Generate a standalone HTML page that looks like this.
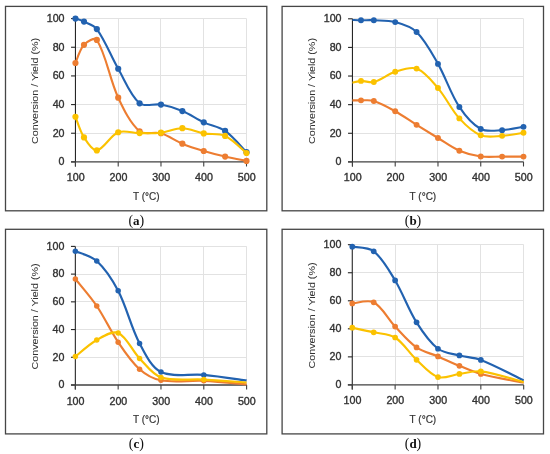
<!DOCTYPE html>
<html><head><meta charset="utf-8"><style>
html,body{margin:0;padding:0;background:#fff;width:550px;height:454px;overflow:hidden}
svg{display:block;will-change:transform}
.t{font-family:"Liberation Sans",sans-serif;font-size:10px;fill:#333333;stroke:#333333;stroke-width:0.35px}
.yt{font-size:9.7px;stroke-width:0.05px}
.xt{font-size:10px;stroke-width:0.2px}
.tk{font-size:10px}
.cap{font-family:"Liberation Serif",serif;font-size:14px;fill:#111}
</style></head><body>
<svg width="550" height="454" viewBox="0 0 550 454">
<rect width="550" height="454" fill="#fff"/>
<rect x="5.5" y="6.4" width="261.3" height="204.4" fill="#fff" stroke="#464646" stroke-width="1.3"/>
<line x1="75.45" y1="133.5" x2="246.5" y2="133.5" stroke="#E2E2E2" stroke-width="1"/>
<line x1="75.45" y1="104.5" x2="246.5" y2="104.5" stroke="#E2E2E2" stroke-width="1"/>
<line x1="75.45" y1="75.5" x2="246.5" y2="75.5" stroke="#E2E2E2" stroke-width="1"/>
<line x1="75.45" y1="47.5" x2="246.5" y2="47.5" stroke="#E2E2E2" stroke-width="1"/>
<line x1="75.45" y1="18.5" x2="246.5" y2="18.5" stroke="#E2E2E2" stroke-width="1"/>
<line x1="118.5" y1="18.6" x2="118.5" y2="161.9" stroke="#E2E2E2" stroke-width="1"/>
<line x1="160.5" y1="18.6" x2="160.5" y2="161.9" stroke="#E2E2E2" stroke-width="1"/>
<line x1="203.5" y1="18.6" x2="203.5" y2="161.9" stroke="#E2E2E2" stroke-width="1"/>
<line x1="246.5" y1="18.6" x2="246.5" y2="161.9" stroke="#E2E2E2" stroke-width="1"/>
<line x1="75.45" y1="18.6" x2="75.45" y2="166.5" stroke="#262626" stroke-width="1.1"/>
<line x1="71.05" y1="161.9" x2="75.45" y2="161.9" stroke="#262626" stroke-width="1.1"/>
<line x1="71.05" y1="133.24" x2="75.45" y2="133.24" stroke="#262626" stroke-width="1.1"/>
<line x1="71.05" y1="104.58" x2="75.45" y2="104.58" stroke="#262626" stroke-width="1.1"/>
<line x1="71.05" y1="75.92" x2="75.45" y2="75.92" stroke="#262626" stroke-width="1.1"/>
<line x1="71.05" y1="47.26" x2="75.45" y2="47.26" stroke="#262626" stroke-width="1.1"/>
<line x1="71.05" y1="18.6" x2="75.45" y2="18.6" stroke="#262626" stroke-width="1.1"/>
<line x1="71.05" y1="161.9" x2="246.5" y2="161.9" stroke="#404040" stroke-width="1.3"/>
<line x1="75.45" y1="161.9" x2="75.45" y2="166.5" stroke="#404040" stroke-width="1.1"/>
<line x1="118.21" y1="161.9" x2="118.21" y2="166.5" stroke="#404040" stroke-width="1.1"/>
<line x1="160.98" y1="161.9" x2="160.98" y2="166.5" stroke="#404040" stroke-width="1.1"/>
<line x1="203.74" y1="161.9" x2="203.74" y2="166.5" stroke="#404040" stroke-width="1.1"/>
<line x1="246.5" y1="161.9" x2="246.5" y2="166.5" stroke="#404040" stroke-width="1.1"/>
<text transform="translate(64.55,165.2) scale(1.07,1)" text-anchor="end" class="t tk">0</text>
<text transform="translate(64.55,136.54) scale(1.07,1)" text-anchor="end" class="t tk">20</text>
<text transform="translate(64.55,107.88) scale(1.07,1)" text-anchor="end" class="t tk">40</text>
<text transform="translate(64.55,79.22) scale(1.07,1)" text-anchor="end" class="t tk">60</text>
<text transform="translate(64.55,50.56) scale(1.07,1)" text-anchor="end" class="t tk">80</text>
<text transform="translate(64.55,21.9) scale(1.07,1)" text-anchor="end" class="t tk">100</text>
<text transform="translate(75.65,181.4) scale(1.07,1)" text-anchor="middle" class="t tk">100</text>
<text transform="translate(118.41,181.4) scale(1.07,1)" text-anchor="middle" class="t tk">200</text>
<text transform="translate(161.18,181.4) scale(1.07,1)" text-anchor="middle" class="t tk">300</text>
<text transform="translate(203.94,181.4) scale(1.07,1)" text-anchor="middle" class="t tk">400</text>
<text transform="translate(246.7,181.4) scale(1.07,1)" text-anchor="middle" class="t tk">500</text>
<text x="146.3" y="200.3" text-anchor="middle" class="t xt">T (°C)</text>
<text transform="translate(38.3,90.95) rotate(-90)" x="-53" y="0" textLength="106" lengthAdjust="spacingAndGlyphs" class="t yt">Conversion / Yield (%)</text>
<path d="M75.45,18.6 C76.88,19.1 81.3,20.29 84,21.61 C88.43,23.77 94.01,25.17 96.83,29.06 C105.41,40.89 110.71,55.74 118.21,68.75 C124.97,80.48 130.26,95.47 139.59,103.29 C144.52,107.41 154,103.32 160.98,104.58 C168.25,105.9 175.51,108.19 182.36,111.03 C189.77,114.11 196.44,118.95 203.74,122.35 C210.69,125.59 218.94,126.64 225.12,130.95 C233.19,136.58 242.94,148.62 246.5,152.16" fill="none" stroke="#2262B0" stroke-width="2.1" stroke-linejoin="round" stroke-linecap="butt"/>
<circle cx="75.45" cy="18.6" r="3.1" fill="#2262B0"/>
<circle cx="84" cy="21.61" r="3.1" fill="#2262B0"/>
<circle cx="96.83" cy="29.06" r="3.1" fill="#2262B0"/>
<circle cx="118.21" cy="68.75" r="3.1" fill="#2262B0"/>
<circle cx="139.59" cy="103.29" r="3.1" fill="#2262B0"/>
<circle cx="160.98" cy="104.58" r="3.1" fill="#2262B0"/>
<circle cx="182.36" cy="111.03" r="3.1" fill="#2262B0"/>
<circle cx="203.74" cy="122.35" r="3.1" fill="#2262B0"/>
<circle cx="225.12" cy="130.95" r="3.1" fill="#2262B0"/>
<circle cx="246.5" cy="152.16" r="3.1" fill="#2262B0"/>
<path d="M75.45,63.02 C76.88,59.99 79.77,49.39 84,44.82 C86.89,41.7 94.75,36.74 96.83,39.95 C106.16,54.37 109.55,79.21 118.21,97.7 C123.81,109.64 130.34,123.54 139.59,131.23 C144.59,135.39 154.21,131.27 160.98,133.24 C168.47,135.42 175.04,140.66 182.36,143.7 C189.3,146.59 196.53,148.84 203.74,151.01 C210.79,153.13 217.94,154.94 225.12,156.6 C232.2,158.23 242.94,160.18 246.5,160.9" fill="none" stroke="#ED7D31" stroke-width="2.1" stroke-linejoin="round" stroke-linecap="butt"/>
<circle cx="75.45" cy="63.02" r="3.1" fill="#ED7D31"/>
<circle cx="84" cy="44.82" r="3.1" fill="#ED7D31"/>
<circle cx="96.83" cy="39.95" r="3.1" fill="#ED7D31"/>
<circle cx="118.21" cy="97.7" r="3.1" fill="#ED7D31"/>
<circle cx="139.59" cy="131.23" r="3.1" fill="#ED7D31"/>
<circle cx="160.98" cy="133.24" r="3.1" fill="#ED7D31"/>
<circle cx="182.36" cy="143.7" r="3.1" fill="#ED7D31"/>
<circle cx="203.74" cy="151.01" r="3.1" fill="#ED7D31"/>
<circle cx="225.12" cy="156.6" r="3.1" fill="#ED7D31"/>
<circle cx="246.5" cy="160.9" r="3.1" fill="#ED7D31"/>
<path d="M75.45,116.76 C76.88,120.2 80.08,131.22 84,137.4 C87.21,142.45 92.33,151.11 96.83,150.44 C103.74,149.39 110.12,135.52 118.21,132.24 C124.38,129.74 132.46,133.03 139.59,133.1 C146.72,133.17 153.92,133.47 160.98,132.67 C168.18,131.85 175.25,128.11 182.36,128.22 C189.51,128.34 196.54,132.08 203.74,133.38 C210.79,134.66 218.84,133.08 225.12,135.96 C233.09,139.62 242.94,150.17 246.5,153.02" fill="none" stroke="#FBC200" stroke-width="2.1" stroke-linejoin="round" stroke-linecap="butt"/>
<circle cx="75.45" cy="116.76" r="3.1" fill="#FBC200"/>
<circle cx="84" cy="137.4" r="3.1" fill="#FBC200"/>
<circle cx="96.83" cy="150.44" r="3.1" fill="#FBC200"/>
<circle cx="118.21" cy="132.24" r="3.1" fill="#FBC200"/>
<circle cx="139.59" cy="133.1" r="3.1" fill="#FBC200"/>
<circle cx="160.98" cy="132.67" r="3.1" fill="#FBC200"/>
<circle cx="182.36" cy="128.22" r="3.1" fill="#FBC200"/>
<circle cx="203.74" cy="133.38" r="3.1" fill="#FBC200"/>
<circle cx="225.12" cy="135.96" r="3.1" fill="#FBC200"/>
<circle cx="246.5" cy="153.02" r="3.1" fill="#FBC200"/>
<text x="136.35" y="225.1" text-anchor="middle" class="cap">(<tspan font-weight="bold" font-size="13px">a</tspan>)</text>
<rect x="282.1" y="6.4" width="261.4" height="204.4" fill="#fff" stroke="#464646" stroke-width="1.3"/>
<line x1="352.45" y1="133.5" x2="523.5" y2="133.5" stroke="#E2E2E2" stroke-width="1"/>
<line x1="352.45" y1="104.5" x2="523.5" y2="104.5" stroke="#E2E2E2" stroke-width="1"/>
<line x1="352.45" y1="76.5" x2="523.5" y2="76.5" stroke="#E2E2E2" stroke-width="1"/>
<line x1="352.45" y1="47.5" x2="523.5" y2="47.5" stroke="#E2E2E2" stroke-width="1"/>
<line x1="352.45" y1="18.5" x2="523.5" y2="18.5" stroke="#E2E2E2" stroke-width="1"/>
<line x1="395.5" y1="18.8" x2="395.5" y2="161.9" stroke="#E2E2E2" stroke-width="1"/>
<line x1="437.5" y1="18.8" x2="437.5" y2="161.9" stroke="#E2E2E2" stroke-width="1"/>
<line x1="480.5" y1="18.8" x2="480.5" y2="161.9" stroke="#E2E2E2" stroke-width="1"/>
<line x1="523.5" y1="18.8" x2="523.5" y2="161.9" stroke="#E2E2E2" stroke-width="1"/>
<line x1="352.45" y1="18.8" x2="352.45" y2="166.5" stroke="#262626" stroke-width="1.1"/>
<line x1="348.05" y1="161.9" x2="352.45" y2="161.9" stroke="#262626" stroke-width="1.1"/>
<line x1="348.05" y1="133.28" x2="352.45" y2="133.28" stroke="#262626" stroke-width="1.1"/>
<line x1="348.05" y1="104.66" x2="352.45" y2="104.66" stroke="#262626" stroke-width="1.1"/>
<line x1="348.05" y1="76.04" x2="352.45" y2="76.04" stroke="#262626" stroke-width="1.1"/>
<line x1="348.05" y1="47.42" x2="352.45" y2="47.42" stroke="#262626" stroke-width="1.1"/>
<line x1="348.05" y1="18.8" x2="352.45" y2="18.8" stroke="#262626" stroke-width="1.1"/>
<line x1="348.05" y1="161.9" x2="523.5" y2="161.9" stroke="#404040" stroke-width="1.3"/>
<line x1="352.45" y1="161.9" x2="352.45" y2="166.5" stroke="#404040" stroke-width="1.1"/>
<line x1="395.21" y1="161.9" x2="395.21" y2="166.5" stroke="#404040" stroke-width="1.1"/>
<line x1="437.98" y1="161.9" x2="437.98" y2="166.5" stroke="#404040" stroke-width="1.1"/>
<line x1="480.74" y1="161.9" x2="480.74" y2="166.5" stroke="#404040" stroke-width="1.1"/>
<line x1="523.5" y1="161.9" x2="523.5" y2="166.5" stroke="#404040" stroke-width="1.1"/>
<text transform="translate(341.55,165.2) scale(1.07,1)" text-anchor="end" class="t tk">0</text>
<text transform="translate(341.55,136.58) scale(1.07,1)" text-anchor="end" class="t tk">20</text>
<text transform="translate(341.55,107.96) scale(1.07,1)" text-anchor="end" class="t tk">40</text>
<text transform="translate(341.55,79.34) scale(1.07,1)" text-anchor="end" class="t tk">60</text>
<text transform="translate(341.55,50.72) scale(1.07,1)" text-anchor="end" class="t tk">80</text>
<text transform="translate(341.55,22.1) scale(1.07,1)" text-anchor="end" class="t tk">100</text>
<text transform="translate(352.65,181.4) scale(1.07,1)" text-anchor="middle" class="t tk">100</text>
<text transform="translate(395.41,181.4) scale(1.07,1)" text-anchor="middle" class="t tk">200</text>
<text transform="translate(438.18,181.4) scale(1.07,1)" text-anchor="middle" class="t tk">300</text>
<text transform="translate(480.94,181.4) scale(1.07,1)" text-anchor="middle" class="t tk">400</text>
<text transform="translate(523.7,181.4) scale(1.07,1)" text-anchor="middle" class="t tk">500</text>
<text x="422.9" y="200.3" text-anchor="middle" class="t xt">T (°C)</text>
<text transform="translate(314.9,91.05) rotate(-90)" x="-53" y="0" textLength="106" lengthAdjust="spacingAndGlyphs" class="t yt">Conversion / Yield (%)</text>
<path d="M352.45,19.94 C353.88,19.99 358.15,20.19 361,20.23 C365.28,20.29 369.57,20 373.83,20.23 C380.97,20.62 388.42,20.23 395.21,22.09 C402.67,24.14 411.18,26.67 416.59,31.97 C425.43,40.6 431.65,52.78 437.98,63.88 C445.9,77.77 450.66,93.7 459.36,106.95 C464.91,115.41 472.34,124.43 480.74,128.99 C486.59,132.16 495.03,130.49 502.12,130.13 C509.28,129.77 519.94,127.39 523.5,126.84" fill="none" stroke="#2262B0" stroke-width="2.1" stroke-linejoin="round" stroke-linecap="butt"/>
<circle cx="361" cy="20.23" r="2.95" fill="#2262B0"/>
<circle cx="373.83" cy="20.23" r="2.95" fill="#2262B0"/>
<circle cx="395.21" cy="22.09" r="2.95" fill="#2262B0"/>
<circle cx="416.59" cy="31.97" r="2.95" fill="#2262B0"/>
<circle cx="437.98" cy="63.88" r="2.95" fill="#2262B0"/>
<circle cx="459.36" cy="106.95" r="2.95" fill="#2262B0"/>
<circle cx="480.74" cy="128.99" r="2.95" fill="#2262B0"/>
<circle cx="502.12" cy="130.13" r="2.95" fill="#2262B0"/>
<circle cx="523.5" cy="126.84" r="2.95" fill="#2262B0"/>
<path d="M352.45,100.37 C353.88,100.37 358.15,100.29 361,100.37 C365.28,100.48 369.83,99.67 373.83,100.94 C381.23,103.29 388.32,107.39 395.21,111.24 C402.57,115.36 409.43,120.36 416.59,124.84 C423.69,129.28 430.82,133.67 437.98,138 C445.07,142.3 451.81,147.48 459.36,150.74 C466.07,153.63 473.49,155.47 480.74,156.46 C487.74,157.42 494.99,156.58 502.12,156.61 C509.25,156.63 519.94,156.61 523.5,156.61" fill="none" stroke="#ED7D31" stroke-width="2.1" stroke-linejoin="round" stroke-linecap="butt"/>
<circle cx="361" cy="100.37" r="2.95" fill="#ED7D31"/>
<circle cx="373.83" cy="100.94" r="2.95" fill="#ED7D31"/>
<circle cx="395.21" cy="111.24" r="2.95" fill="#ED7D31"/>
<circle cx="416.59" cy="124.84" r="2.95" fill="#ED7D31"/>
<circle cx="437.98" cy="138" r="2.95" fill="#ED7D31"/>
<circle cx="459.36" cy="150.74" r="2.95" fill="#ED7D31"/>
<circle cx="480.74" cy="156.46" r="2.95" fill="#ED7D31"/>
<circle cx="502.12" cy="156.61" r="2.95" fill="#ED7D31"/>
<circle cx="523.5" cy="156.61" r="2.95" fill="#ED7D31"/>
<path d="M352.45,82.77 C353.88,82.46 358.12,81 361,80.91 C365.25,80.76 369.82,83.12 373.83,82.05 C381.22,80.07 387.75,74.09 395.21,71.75 C402.01,69.61 410.5,66.27 416.59,68.6 C424.75,71.71 431.73,80.79 437.98,88.06 C445.99,97.39 451.14,109.32 459.36,118.4 C465.39,125.06 472.75,132.02 480.74,135.28 C487.01,137.84 495.03,136.28 502.12,135.86 C509.28,135.42 519.94,133.23 523.5,132.71" fill="none" stroke="#FBC200" stroke-width="2.1" stroke-linejoin="round" stroke-linecap="butt"/>
<circle cx="361" cy="80.91" r="2.95" fill="#FBC200"/>
<circle cx="373.83" cy="82.05" r="2.95" fill="#FBC200"/>
<circle cx="395.21" cy="71.75" r="2.95" fill="#FBC200"/>
<circle cx="416.59" cy="68.6" r="2.95" fill="#FBC200"/>
<circle cx="437.98" cy="88.06" r="2.95" fill="#FBC200"/>
<circle cx="459.36" cy="118.4" r="2.95" fill="#FBC200"/>
<circle cx="480.74" cy="135.28" r="2.95" fill="#FBC200"/>
<circle cx="502.12" cy="135.86" r="2.95" fill="#FBC200"/>
<circle cx="523.5" cy="132.71" r="2.95" fill="#FBC200"/>
<text x="413" y="225.1" text-anchor="middle" class="cap">(<tspan font-weight="bold" font-size="13px">b</tspan>)</text>
<rect x="5.5" y="229.3" width="261.3" height="204.6" fill="#fff" stroke="#464646" stroke-width="1.3"/>
<line x1="75.35" y1="357.5" x2="246.6" y2="357.5" stroke="#E2E2E2" stroke-width="1"/>
<line x1="75.35" y1="329.5" x2="246.6" y2="329.5" stroke="#E2E2E2" stroke-width="1"/>
<line x1="75.35" y1="301.5" x2="246.6" y2="301.5" stroke="#E2E2E2" stroke-width="1"/>
<line x1="75.35" y1="274.5" x2="246.6" y2="274.5" stroke="#E2E2E2" stroke-width="1"/>
<line x1="75.35" y1="246.5" x2="246.6" y2="246.5" stroke="#E2E2E2" stroke-width="1"/>
<line x1="118.5" y1="246.4" x2="118.5" y2="385" stroke="#E2E2E2" stroke-width="1"/>
<line x1="160.5" y1="246.4" x2="160.5" y2="385" stroke="#E2E2E2" stroke-width="1"/>
<line x1="203.5" y1="246.4" x2="203.5" y2="385" stroke="#E2E2E2" stroke-width="1"/>
<line x1="246.5" y1="246.4" x2="246.5" y2="385" stroke="#E2E2E2" stroke-width="1"/>
<line x1="75.35" y1="246.4" x2="75.35" y2="389.6" stroke="#262626" stroke-width="1.1"/>
<line x1="70.95" y1="385" x2="75.35" y2="385" stroke="#262626" stroke-width="1.1"/>
<line x1="70.95" y1="357.28" x2="75.35" y2="357.28" stroke="#262626" stroke-width="1.1"/>
<line x1="70.95" y1="329.56" x2="75.35" y2="329.56" stroke="#262626" stroke-width="1.1"/>
<line x1="70.95" y1="301.84" x2="75.35" y2="301.84" stroke="#262626" stroke-width="1.1"/>
<line x1="70.95" y1="274.12" x2="75.35" y2="274.12" stroke="#262626" stroke-width="1.1"/>
<line x1="70.95" y1="246.4" x2="75.35" y2="246.4" stroke="#262626" stroke-width="1.1"/>
<line x1="70.95" y1="385" x2="246.6" y2="385" stroke="#404040" stroke-width="1.3"/>
<line x1="75.35" y1="385" x2="75.35" y2="389.6" stroke="#404040" stroke-width="1.1"/>
<line x1="118.16" y1="385" x2="118.16" y2="389.6" stroke="#404040" stroke-width="1.1"/>
<line x1="160.97" y1="385" x2="160.97" y2="389.6" stroke="#404040" stroke-width="1.1"/>
<line x1="203.79" y1="385" x2="203.79" y2="389.6" stroke="#404040" stroke-width="1.1"/>
<line x1="246.6" y1="385" x2="246.6" y2="389.6" stroke="#404040" stroke-width="1.1"/>
<text transform="translate(64.45,388.3) scale(1.07,1)" text-anchor="end" class="t tk">0</text>
<text transform="translate(64.45,360.58) scale(1.07,1)" text-anchor="end" class="t tk">20</text>
<text transform="translate(64.45,332.86) scale(1.07,1)" text-anchor="end" class="t tk">40</text>
<text transform="translate(64.45,305.14) scale(1.07,1)" text-anchor="end" class="t tk">60</text>
<text transform="translate(64.45,277.42) scale(1.07,1)" text-anchor="end" class="t tk">80</text>
<text transform="translate(64.45,249.7) scale(1.07,1)" text-anchor="end" class="t tk">100</text>
<text transform="translate(75.55,404.5) scale(1.07,1)" text-anchor="middle" class="t tk">100</text>
<text transform="translate(118.36,404.5) scale(1.07,1)" text-anchor="middle" class="t tk">200</text>
<text transform="translate(161.17,404.5) scale(1.07,1)" text-anchor="middle" class="t tk">300</text>
<text transform="translate(203.99,404.5) scale(1.07,1)" text-anchor="middle" class="t tk">400</text>
<text transform="translate(246.8,404.5) scale(1.07,1)" text-anchor="middle" class="t tk">500</text>
<text x="146.3" y="423.4" text-anchor="middle" class="t xt">T (°C)</text>
<text transform="translate(38.3,316.4) rotate(-90)" x="-53" y="0" textLength="106" lengthAdjust="spacingAndGlyphs" class="t yt">Conversion / Yield (%)</text>
<path d="M75.35,251.25 C78.92,252.87 91.18,255.81 96.76,260.95 C105.46,268.98 112.56,279.97 118.16,290.75 C126.84,307.46 130.81,326.78 139.57,343.42 C145.08,353.9 151.24,367.34 160.97,372.11 C172.64,377.83 189.56,373.5 203.79,374.88 C218.1,376.27 239.46,379.5 246.6,380.43" fill="none" stroke="#2262B0" stroke-width="2.2" stroke-linejoin="round" stroke-linecap="butt"/>
<circle cx="75.35" cy="251.25" r="2.75" fill="#2262B0"/>
<circle cx="96.76" cy="260.95" r="2.75" fill="#2262B0"/>
<circle cx="118.16" cy="290.75" r="2.75" fill="#2262B0"/>
<circle cx="139.57" cy="343.42" r="2.75" fill="#2262B0"/>
<circle cx="160.97" cy="372.11" r="2.75" fill="#2262B0"/>
<circle cx="203.79" cy="374.88" r="2.75" fill="#2262B0"/>
<path d="M75.35,278.97 C78.92,283.48 90.33,296.5 96.76,306 C104.6,317.57 110.32,330.6 118.16,342.17 C124.59,351.67 131.17,361.72 139.57,369.2 C145.44,374.43 153.26,378.89 160.97,380.29 C174.67,382.77 189.54,380.17 203.79,380.84 C218.08,381.51 239.46,383.73 246.6,384.31" fill="none" stroke="#ED7D31" stroke-width="2.2" stroke-linejoin="round" stroke-linecap="butt"/>
<circle cx="75.35" cy="278.97" r="2.75" fill="#ED7D31"/>
<circle cx="96.76" cy="306" r="2.75" fill="#ED7D31"/>
<circle cx="118.16" cy="342.17" r="2.75" fill="#ED7D31"/>
<circle cx="139.57" cy="369.2" r="2.75" fill="#ED7D31"/>
<circle cx="160.97" cy="380.29" r="2.75" fill="#ED7D31"/>
<circle cx="203.79" cy="380.84" r="2.75" fill="#ED7D31"/>
<path d="M75.35,356.59 C78.92,353.81 88.96,344.27 96.76,339.95 C103.24,336.37 112.4,330.41 118.16,332.89 C126.67,336.55 131.89,350.41 139.57,358.39 C146.16,365.24 152.41,374.55 160.97,377.38 C173.81,381.62 189.52,378.74 203.79,379.59 C218.07,380.45 239.46,382.02 246.6,382.51" fill="none" stroke="#FBC200" stroke-width="2.2" stroke-linejoin="round" stroke-linecap="butt"/>
<circle cx="75.35" cy="356.59" r="2.75" fill="#FBC200"/>
<circle cx="96.76" cy="339.95" r="2.75" fill="#FBC200"/>
<circle cx="118.16" cy="332.89" r="2.75" fill="#FBC200"/>
<circle cx="139.57" cy="358.39" r="2.75" fill="#FBC200"/>
<circle cx="160.97" cy="377.38" r="2.75" fill="#FBC200"/>
<circle cx="203.79" cy="379.59" r="2.75" fill="#FBC200"/>
<text x="136.35" y="448.2" text-anchor="middle" class="cap">(<tspan font-weight="bold" font-size="13px">c</tspan>)</text>
<rect x="282.1" y="229.3" width="261.4" height="204.6" fill="#fff" stroke="#464646" stroke-width="1.3"/>
<line x1="352.28" y1="356.5" x2="523.68" y2="356.5" stroke="#E2E2E2" stroke-width="1"/>
<line x1="352.28" y1="328.5" x2="523.68" y2="328.5" stroke="#E2E2E2" stroke-width="1"/>
<line x1="352.28" y1="300.5" x2="523.68" y2="300.5" stroke="#E2E2E2" stroke-width="1"/>
<line x1="352.28" y1="272.5" x2="523.68" y2="272.5" stroke="#E2E2E2" stroke-width="1"/>
<line x1="352.28" y1="244.5" x2="523.68" y2="244.5" stroke="#E2E2E2" stroke-width="1"/>
<line x1="395.5" y1="244.7" x2="395.5" y2="384.9" stroke="#E2E2E2" stroke-width="1"/>
<line x1="437.5" y1="244.7" x2="437.5" y2="384.9" stroke="#E2E2E2" stroke-width="1"/>
<line x1="480.5" y1="244.7" x2="480.5" y2="384.9" stroke="#E2E2E2" stroke-width="1"/>
<line x1="523.5" y1="244.7" x2="523.5" y2="384.9" stroke="#E2E2E2" stroke-width="1"/>
<line x1="352.28" y1="244.7" x2="352.28" y2="389.5" stroke="#262626" stroke-width="1.1"/>
<line x1="347.88" y1="384.9" x2="352.28" y2="384.9" stroke="#262626" stroke-width="1.1"/>
<line x1="347.88" y1="356.86" x2="352.28" y2="356.86" stroke="#262626" stroke-width="1.1"/>
<line x1="347.88" y1="328.82" x2="352.28" y2="328.82" stroke="#262626" stroke-width="1.1"/>
<line x1="347.88" y1="300.78" x2="352.28" y2="300.78" stroke="#262626" stroke-width="1.1"/>
<line x1="347.88" y1="272.74" x2="352.28" y2="272.74" stroke="#262626" stroke-width="1.1"/>
<line x1="347.88" y1="244.7" x2="352.28" y2="244.7" stroke="#262626" stroke-width="1.1"/>
<line x1="347.88" y1="384.9" x2="523.68" y2="384.9" stroke="#404040" stroke-width="1.3"/>
<line x1="352.28" y1="384.9" x2="352.28" y2="389.5" stroke="#404040" stroke-width="1.1"/>
<line x1="395.13" y1="384.9" x2="395.13" y2="389.5" stroke="#404040" stroke-width="1.1"/>
<line x1="437.98" y1="384.9" x2="437.98" y2="389.5" stroke="#404040" stroke-width="1.1"/>
<line x1="480.83" y1="384.9" x2="480.83" y2="389.5" stroke="#404040" stroke-width="1.1"/>
<line x1="523.68" y1="384.9" x2="523.68" y2="389.5" stroke="#404040" stroke-width="1.1"/>
<text transform="translate(341.38,388.2) scale(1.07,1)" text-anchor="end" class="t tk">0</text>
<text transform="translate(341.38,360.16) scale(1.07,1)" text-anchor="end" class="t tk">20</text>
<text transform="translate(341.38,332.12) scale(1.07,1)" text-anchor="end" class="t tk">40</text>
<text transform="translate(341.38,304.08) scale(1.07,1)" text-anchor="end" class="t tk">60</text>
<text transform="translate(341.38,276.04) scale(1.07,1)" text-anchor="end" class="t tk">80</text>
<text transform="translate(341.38,248) scale(1.07,1)" text-anchor="end" class="t tk">100</text>
<text transform="translate(352.48,404.4) scale(1.07,1)" text-anchor="middle" class="t tk">100</text>
<text transform="translate(395.33,404.4) scale(1.07,1)" text-anchor="middle" class="t tk">200</text>
<text transform="translate(438.18,404.4) scale(1.07,1)" text-anchor="middle" class="t tk">300</text>
<text transform="translate(481.03,404.4) scale(1.07,1)" text-anchor="middle" class="t tk">400</text>
<text transform="translate(523.88,404.4) scale(1.07,1)" text-anchor="middle" class="t tk">500</text>
<text x="422.9" y="423.3" text-anchor="middle" class="t xt">T (°C)</text>
<text transform="translate(314.9,315.5) rotate(-90)" x="-53" y="0" textLength="106" lengthAdjust="spacingAndGlyphs" class="t yt">Conversion / Yield (%)</text>
<path d="M352.28,246.66 C355.85,247.43 368.32,247.04 373.7,251.29 C382.6,258.3 388.92,270.15 395.13,280.45 C403.21,293.85 408.26,309.15 416.55,322.37 C422.54,331.91 429.38,342.09 437.98,348.73 C443.66,353.12 452.17,353.56 459.4,355.46 C466.46,357.3 474.07,357.32 480.83,359.94 C495.5,365.64 516.54,377 523.68,380.41" fill="none" stroke="#2262B0" stroke-width="2.15" stroke-linejoin="round" stroke-linecap="butt"/>
<circle cx="352.28" cy="246.66" r="2.85" fill="#2262B0"/>
<circle cx="373.7" cy="251.29" r="2.85" fill="#2262B0"/>
<circle cx="395.13" cy="280.45" r="2.85" fill="#2262B0"/>
<circle cx="416.55" cy="322.37" r="2.85" fill="#2262B0"/>
<circle cx="437.98" cy="348.73" r="2.85" fill="#2262B0"/>
<circle cx="459.4" cy="355.46" r="2.85" fill="#2262B0"/>
<circle cx="480.83" cy="359.94" r="2.85" fill="#2262B0"/>
<path d="M352.28,303.44 C355.85,303.26 368.01,299.25 373.7,302.32 C382.29,306.96 387.71,318.76 395.13,326.58 C401.99,333.81 408.51,341.86 416.55,347.47 C422.8,351.82 430.86,353.39 437.98,356.44 C445.15,359.51 452.19,362.88 459.4,365.83 C466.47,368.72 473.46,372.04 480.83,373.96 C494.89,377.64 516.54,381.21 523.68,382.66" fill="none" stroke="#ED7D31" stroke-width="2.15" stroke-linejoin="round" stroke-linecap="butt"/>
<circle cx="352.28" cy="303.44" r="2.85" fill="#ED7D31"/>
<circle cx="373.7" cy="302.32" r="2.85" fill="#ED7D31"/>
<circle cx="395.13" cy="326.58" r="2.85" fill="#ED7D31"/>
<circle cx="416.55" cy="347.47" r="2.85" fill="#ED7D31"/>
<circle cx="437.98" cy="356.44" r="2.85" fill="#ED7D31"/>
<circle cx="459.4" cy="365.83" r="2.85" fill="#ED7D31"/>
<circle cx="480.83" cy="373.96" r="2.85" fill="#ED7D31"/>
<path d="M352.28,327.7 C355.85,328.47 366.58,330.69 373.7,332.32 C380.87,333.97 389.19,333.7 395.13,337.51 C403.47,342.86 409,352.83 416.55,359.8 C423.28,366.01 429.99,374.41 437.98,377.05 C444.27,379.13 452.25,374.9 459.4,373.96 C466.53,373.03 473.8,370.55 480.83,371.44 C495.22,373.26 516.54,380.32 523.68,382.1" fill="none" stroke="#FBC200" stroke-width="2.15" stroke-linejoin="round" stroke-linecap="butt"/>
<circle cx="352.28" cy="327.7" r="2.85" fill="#FBC200"/>
<circle cx="373.7" cy="332.32" r="2.85" fill="#FBC200"/>
<circle cx="395.13" cy="337.51" r="2.85" fill="#FBC200"/>
<circle cx="416.55" cy="359.8" r="2.85" fill="#FBC200"/>
<circle cx="437.98" cy="377.05" r="2.85" fill="#FBC200"/>
<circle cx="459.4" cy="373.96" r="2.85" fill="#FBC200"/>
<circle cx="480.83" cy="371.44" r="2.85" fill="#FBC200"/>
<text x="413" y="448.2" text-anchor="middle" class="cap">(<tspan font-weight="bold" font-size="13px">d</tspan>)</text>
</svg>
</body></html>
